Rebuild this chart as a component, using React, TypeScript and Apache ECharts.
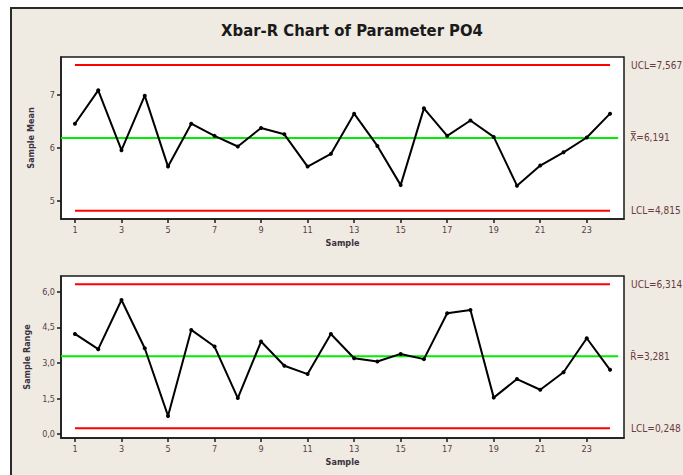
import React, { useEffect, useRef } from "react";
import * as echarts from "echarts";

const samples = [1, 2, 3, 4, 5, 6, 7, 8, 9, 10, 11, 12, 13, 14, 15, 16, 17, 18, 19, 20, 21, 22, 23, 24];
const sampleMeans = [6.46, 7.09, 5.96, 6.99, 5.65, 6.46, 6.23, 6.03, 6.38, 6.26, 5.65, 5.89, 6.65, 6.04, 5.3, 6.75, 6.23, 6.52, 6.21, 5.29, 5.67, 5.92, 6.2, 6.65];
const sampleRanges = [4.22, 3.58, 5.65, 3.62, 0.77, 4.39, 3.69, 1.52, 3.9, 2.88, 2.53, 4.22, 3.2, 3.06, 3.38, 3.16, 5.09, 5.23, 1.54, 2.32, 1.87, 2.61, 4.04, 2.71];
const xbarLimits = { ucl: 7.567, cl: 6.191, lcl: 4.815 };
const rangeLimits = { ucl: 6.314, cl: 3.281, lcl: 0.248 };
const xTicks = [1, 3, 5, 7, 9, 11, 13, 15, 17, 19, 21, 23];
const meanTicks = [5, 6, 7];
const rangeTicks = [0, 1.5, 3, 4.5, 6];

const FONT = "'DejaVu Sans Condensed', 'DejaVu Sans', sans-serif";
const LABEL_COLOR = "#5a3c48";
const RIGHT_COLOR = "#6a3a40";

const comma = (v: number, d: number) => v.toFixed(d).replace(".", ",");

export default function App() {
  const ref = useRef<HTMLDivElement>(null);
  useEffect(() => {
    if (!ref.current) return;
    const chart = echarts.init(ref.current, undefined, { renderer: "svg" });
    const xMin = 0.4;
    const xMax = 24.6;
    const first = samples[0];
    const last = samples[samples.length - 1];

    const xAxisBase = (gridIndex: number) => ({
      type: "value",
      gridIndex,
      min: xMin,
      max: xMax,
      name: "Sample",
      nameLocation: "middle",
      nameGap: 19,
      nameTextStyle: { fontFamily: FONT, fontSize: 9, fontWeight: "bold", color: "#3a3040" },
      axisLine: { show: true, onZero: false, lineStyle: { color: "#1a1a1a", width: 1.5 } },
      axisTick: { show: true, length: 4, customValues: xTicks, lineStyle: { color: "#1a1a1a", width: 1.5 } },
      axisLabel: { customValues: xTicks, fontFamily: FONT, fontSize: 9, color: LABEL_COLOR, margin: 6 },
      splitLine: { show: false },
    });

    const yAxisBase = (gridIndex: number, min: number, max: number, ticks: number[], name: string, fmt: (v: number) => string) => ({
      type: "value",
      gridIndex,
      min,
      max,
      name,
      nameLocation: "middle",
      nameGap: 26,
      nameTextStyle: { fontFamily: FONT, fontSize: 9, fontWeight: "bold", color: "#3a3040" },
      axisLine: { show: true, onZero: false, lineStyle: { color: "#1a1a1a", width: 1.5 } },
      axisTick: { show: true, length: 4, customValues: ticks, lineStyle: { color: "#1a1a1a", width: 1.5 } },
      axisLabel: { customValues: ticks, fontFamily: FONT, fontSize: 9, color: LABEL_COLOR, margin: 6, formatter: fmt },
      splitLine: { show: false },
    });

    const limitSeries = (idx: number, data: number[][], color: string, text: string, distance: number) => ({
      type: "line",
      xAxisIndex: idx,
      yAxisIndex: idx,
      data,
      symbol: "none",
      lineStyle: { color, width: 2 },
      silent: true,
      z: 1,
      endLabel: {
        show: true,
        formatter: () => text,
        distance,
        fontFamily: FONT,
        fontSize: 10,
        color: RIGHT_COLOR,
      },
    });

    const dataSeries = (idx: number, values: number[]) => ({
      type: "line",
      xAxisIndex: idx,
      yAxisIndex: idx,
      data: values.map((v, i) => [samples[i], v]),
      symbol: "circle",
      symbolSize: 4,
      itemStyle: { color: "#000" },
      lineStyle: { color: "#000", width: 2 },
      z: 3,
    });

    chart.setOption({
      animation: false,
      backgroundColor: "#ffffff",
      graphic: [
        {
          type: "rect",
          shape: { x: 11, y: 8, width: 700, height: 500 },
          style: { fill: "#EFEBE2", stroke: "#2a2a2a", lineWidth: 2 },
          z: -10,
        },
        {
          type: "text",
          x: 352,
          y: 30,
          style: {
            text: "Xbar-R Chart of Parameter PO4",
            fontFamily: FONT,
            fontSize: 16.5,
            fontWeight: "bold",
            fill: "#1a1a1a",
            textAlign: "center",
            textVerticalAlign: "middle",
          },
        },
      ],
      grid: [
        { left: 61, top: 57, width: 563, height: 162, show: true, backgroundColor: "#ffffff", borderColor: "#1a1a1a", borderWidth: 1.5 },
        { left: 61, top: 276, width: 563, height: 162, show: true, backgroundColor: "#ffffff", borderColor: "#1a1a1a", borderWidth: 1.5 },
      ],
      xAxis: [xAxisBase(0), xAxisBase(1)],
      yAxis: [
        yAxisBase(0, 4.66, 7.72, meanTicks, "Sample Mean", (v: number) => String(v)),
        yAxisBase(1, -0.16, 6.66, rangeTicks, "Sample Range", (v: number) => comma(v, 1)),
      ],
      series: [
        limitSeries(0, [[first, xbarLimits.ucl], [last, xbarLimits.ucl]], "#ff0000", "UCL=" + comma(xbarLimits.ucl, 3), 21),
        limitSeries(0, [[xMin, xbarLimits.cl], [24.35, xbarLimits.cl]], "#00ee00", "X\u033F=" + comma(xbarLimits.cl, 3), 12),
        limitSeries(0, [[first, xbarLimits.lcl], [last, xbarLimits.lcl]], "#ff0000", "LCL=" + comma(xbarLimits.lcl, 3), 21),
        dataSeries(0, sampleMeans),
        limitSeries(1, [[first, rangeLimits.ucl], [last, rangeLimits.ucl]], "#ff0000", "UCL=" + comma(rangeLimits.ucl, 3), 21),
        limitSeries(1, [[xMin, rangeLimits.cl], [24.35, rangeLimits.cl]], "#00ee00", "R\u0304=" + comma(rangeLimits.cl, 3), 12),
        limitSeries(1, [[first, rangeLimits.lcl], [last, rangeLimits.lcl]], "#ff0000", "LCL=" + comma(rangeLimits.lcl, 3), 21),
        dataSeries(1, sampleRanges),
      ],
    });
    return () => chart.dispose();
  }, []);
  return (
    <div style={{ position: "fixed", left: 0, top: 0, width: 683, height: 475 }}>
      <div ref={ref} style={{ width: 683, height: 475 }} />
    </div>
  );
}
